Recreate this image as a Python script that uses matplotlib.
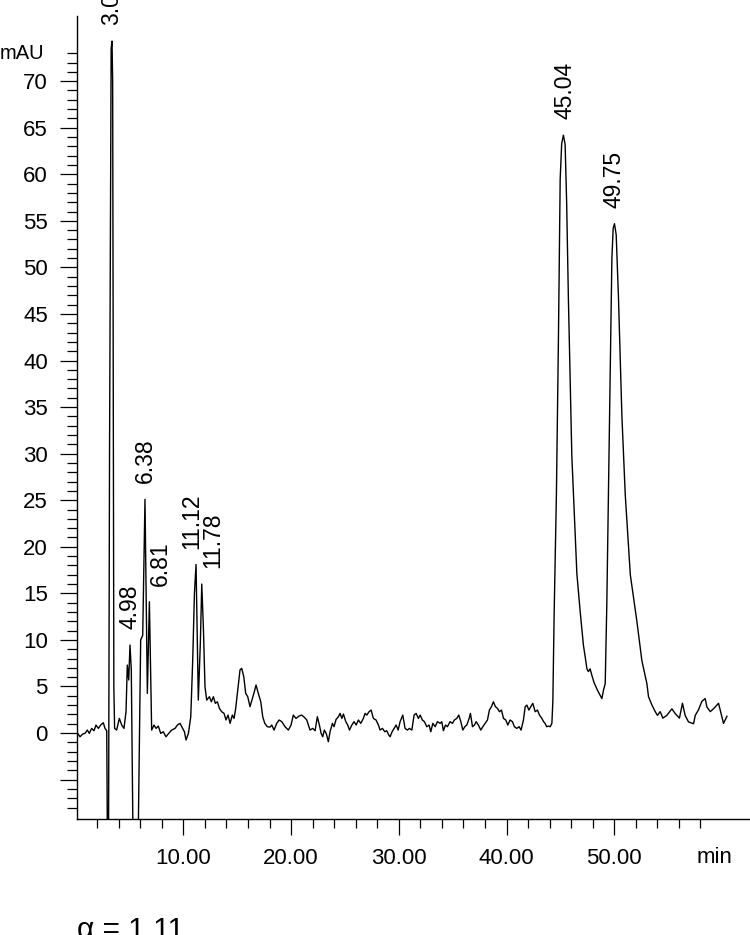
import numpy as np
import matplotlib
matplotlib.use("Agg")
from matplotlib import pyplot as plt, ticker

plt.rcParams["font.family"] = ["Liberation Sans", "DejaVu Sans"]

# retention time (min) and absorbance (mAU)
time_min = [
    0.10, 0.41, 0.66, 0.87, 1.09, 1.27, 1.49, 1.71, 1.89, 2.11, 2.33, 2.57, 2.73, 2.89,
    2.97, 3.05, 3.15, 3.30, 3.38, 3.44, 3.55, 3.62,
    3.81, 4.06, 4.28, 4.49, 4.68, 4.80, 4.93, 5.05, 5.17, 5.36, 5.77, 5.92, 6.04, 6.23,
    6.44, 6.66, 6.85, 7.06, 7.28, 7.47, 7.68, 7.90, 8.14, 8.39, 8.64, 8.92, 9.23, 9.45,
    9.69, 9.94, 10.10, 10.25, 10.47, 10.69, 10.87, 11.03, 11.18, 11.39, 11.58, 11.71,
    11.86, 12.01, 12.17, 12.42, 12.60, 12.79, 12.97, 13.16, 13.35, 13.56, 13.78, 13.96,
    14.15, 14.34, 14.55, 14.71, 14.86, 15.05, 15.26, 15.42, 15.61, 15.79, 15.98, 16.19,
    16.41, 16.59, 16.75, 16.96, 17.19, 17.37, 17.56, 17.80, 18.05,
    18.21, 18.42, 18.67, 18.89, 19.14, 19.44, 19.75, 20.00, 20.21, 20.46, 20.74, 20.99,
    21.24, 21.46, 21.76, 22.01, 22.23, 22.44, 22.63, 22.79, 22.94, 23.09, 23.28, 23.46,
    23.62, 23.84, 23.99, 24.18, 24.39, 24.55, 24.71, 24.86, 25.08, 25.26, 25.42, 25.64,
    25.85, 26.04, 26.25, 26.47, 26.71, 26.87, 27.03, 27.24, 27.43, 27.64, 27.89, 28.11,
    28.26, 28.48, 28.70, 28.88, 29.07, 29.19, 29.38, 29.56, 29.75, 29.94, 30.12, 30.37,
    30.58, 30.80, 30.98, 31.21, 31.42, 31.61, 31.82, 31.98, 32.19, 32.38, 32.60, 32.81,
    32.97, 33.16, 33.37, 33.59, 33.84, 33.99, 34.14, 34.33, 34.51, 34.76, 34.98, 35.16,
    35.38, 35.57, 35.76, 35.94, 36.13, 36.31, 36.53, 36.65, 36.84, 37.02, 37.18, 37.39,
    37.61, 37.80, 38.01, 38.23, 38.41, 38.60, 38.78, 38.97, 39.16, 39.34, 39.53, 39.72,
    39.93, 40.12, 40.33, 40.55, 40.73, 40.95, 41.17, 41.35, 41.57, 41.73, 41.89, 42.07,
    42.26, 42.44, 42.66, 42.87, 43.06, 43.28, 43.44, 43.58, 43.73, 43.89, 44.05,
    44.21, 44.30, 44.42, 44.63, 44.82, 44.98, 45.12, 45.28, 45.44, 45.58, 45.74, 46.06,
    46.53, 46.84, 47.14, 47.30, 47.46, 47.60, 47.76, 47.92, 48.13, 48.44, 48.85, 49.00,
    49.16, 49.31, 49.46, 49.62, 49.78, 49.90, 50.02, 50.18, 50.39, 50.71, 51.02, 51.49,
    52.10, 52.56, 53.03, 53.18, 53.50, 53.80, 54.01, 54.26, 54.51, 54.88, 55.35, 55.65,
    56.05, 56.33, 56.58, 56.89, 57.36, 57.52, 57.82, 58.13, 58.44, 58.60, 58.91, 59.21,
    59.68, 60.14, 60.46,
]
signal_mau = [
    0.14, -0.40, -0.10, -0.04, 0.32, -0.04, 0.50, 0.25, 0.86, 0.50, 0.86, 1.11, 0.50, 0.25,
    -15.0, -15.0, 30.0, 73.5, 74.3, 70.0, 5.0, 0.50,
    0.32, 1.57, 0.86, 0.50, 2.29, 7.30, 5.70, 9.45, 6.77, -15.0, -15.0, -1.47, 10.0, 10.5,
    25.1, 4.26, 14.1, 0.32, 0.86, 0.50, 0.75, -0.04, 0.14, -0.40, -0.04, 0.32, 0.50, 0.86,
    1.04, 0.50, 0.14, -0.75, -0.04, 1.75, 7.80, 15.0, 18.1, 3.54, 9.70, 16.0,
    11.4, 4.97, 3.54, 3.90, 3.36, 3.90, 3.19, 3.36, 2.65, 2.29, 2.11, 1.40,
    1.93, 1.04, 1.93, 1.57, 2.65, 4.62, 6.77, 6.95, 6.05, 4.26, 3.90, 2.83,
    3.72, 4.44, 5.16, 4.26, 3.36, 1.75, 1.04, 0.68, 0.64,
    0.86, 0.32, 1.04, 1.40, 1.22, 0.68, 0.32, 0.86, 1.93, 1.57, 1.83, 1.93,
    1.68, 1.40, 0.32, 0.50, 0.25, 1.75, 0.86, -0.04, -0.40, 0.32, -0.10, -0.93,
    0.14, 1.04, 0.68, 1.47, 1.75, 2.11, 1.57, 2.04, 1.22, 0.86, 0.32, 0.86,
    1.22, 0.86, 1.40, 1.04, 1.57, 2.11, 1.93, 2.29, 2.47, 1.57, 1.40, 0.86,
    0.32, 0.50, 0.14, 0.25, -0.21, -0.40, 0.14, 0.50, 0.86, 0.32, 1.22, 1.93,
    0.50, 0.32, 0.50, 0.32, 1.93, 2.11, 1.57, 1.93, 1.40, 1.22, 0.68, 0.86,
    0.14, 1.04, 0.68, 1.22, 1.04, 1.22, 0.25, 0.86, 0.68, 1.22, 1.04, 1.40,
    1.57, 1.93, 1.22, 0.32, 0.68, 0.86, 1.57, 2.11, 0.68, 0.86, 1.22, 0.86,
    0.32, 0.68, 1.04, 1.40, 2.47, 2.83, 3.36, 2.83, 2.65, 2.29, 2.47, 1.57,
    1.40, 0.86, 1.40, 1.22, 0.68, 0.50, 0.68, 0.32, 1.40, 2.83, 3.00, 2.47,
    2.83, 3.19, 2.29, 2.47, 1.93, 1.57, 1.22, 1.04, 0.68, 0.75, 0.68,
    1.04, 3.40, 12.8, 25.6, 42.5, 59.5, 63.3, 64.2, 63.2, 57.0, 46.8, 29.8,
    17.1, 13.0, 9.40, 8.20, 6.90, 6.60, 6.90, 6.20, 5.40, 4.60, 3.70, 4.60,
    5.30, 13.9, 25.6, 38.3, 51.0, 54.2, 54.7, 53.5, 46.8, 34.0, 25.6, 17.0,
    12.0, 7.80, 5.30, 3.90, 3.00, 2.30, 1.90, 2.30, 1.60, 1.90, 2.60, 2.10,
    1.60, 3.20, 1.90, 1.20, 1.00, 1.90, 2.50, 3.40, 3.70, 2.80, 2.30, 2.60,
    3.20, 1.04, 1.80,
]

peak_labels = ["3.05", "4.98", "6.38", "6.81", "11.12", "11.78", "45.04", "49.75"]
# sideways nudge of each label (points), so neighbouring labels do not collide
label_dx = [0, 0, 0, 8, -3, 8, 1, 0]

x_major = [10, 20, 30, 40, 50]
x_minor = [t for t in range(2, 59, 2) if t % 10]

t = np.array(time_min)
s = np.array(signal_mau)

fig = plt.figure(figsize=(7.5, 9.35), dpi=100)
ax = fig.add_axes([77 / 750, 116 / 935, 673 / 750, 803 / 935])
ax.plot(t, s, color="black", linewidth=1.0)

ax.set_xlim(0.13, 62.6)
ax.set_ylim(-9.23, 77.0)

for side in ("top", "right"):
    ax.spines[side].set_visible(False)
for side in ("left", "bottom"):
    ax.spines[side].set_linewidth(1.0)

ax.xaxis.set_major_locator(ticker.FixedLocator(x_major))
ax.xaxis.set_minor_locator(ticker.FixedLocator(x_minor))
ax.xaxis.set_major_formatter(ticker.FuncFormatter(lambda v, p: "%.2f" % v))
ax.yaxis.set_major_locator(ticker.FixedLocator(range(-5, 71, 5)))
ax.yaxis.set_minor_locator(ticker.FixedLocator(range(-8, 74)))
ax.yaxis.set_major_formatter(ticker.FuncFormatter(lambda v, p: "" if v < 0 else "%d" % v))

ax.tick_params(axis="y", which="major", direction="out", length=12, width=0.9,
               pad=9, labelsize=16)
ax.tick_params(axis="y", which="minor", direction="out", length=7, width=0.9)
ax.tick_params(axis="x", which="major", direction="out", length=11.5, width=0.9,
               pad=9.5, labelsize=16)
ax.tick_params(axis="x", which="minor", direction="out", length=6.5, width=0.9)

ax.text(-0.049, 73, "mAU", transform=ax.get_yaxis_transform(),
        ha="right", va="center", fontsize=14.5)
ax.text(59.3, -0.048, "min", transform=ax.get_xaxis_transform(),
        ha="center", va="center", fontsize=16)

# label every peak at the apex found near its retention time
for lab, dx in zip(peak_labels, label_dx):
    rt = float(lab)
    win = (t >= rt - 0.15) & (t <= rt + 0.4)
    i = np.flatnonzero(win)[np.argmax(s[win])]
    ax.annotate(lab, (t[i], s[i]), xytext=(dx, 11.5), textcoords="offset points",
                rotation=90, ha="center", va="bottom", fontsize=16.5,
                annotation_clip=False)

fig.text(77 / 750, -0.003, "\u03b1 = 1.11", ha="left", va="baseline", fontsize=21.5)

fig.savefig("out.png", dpi=100)
